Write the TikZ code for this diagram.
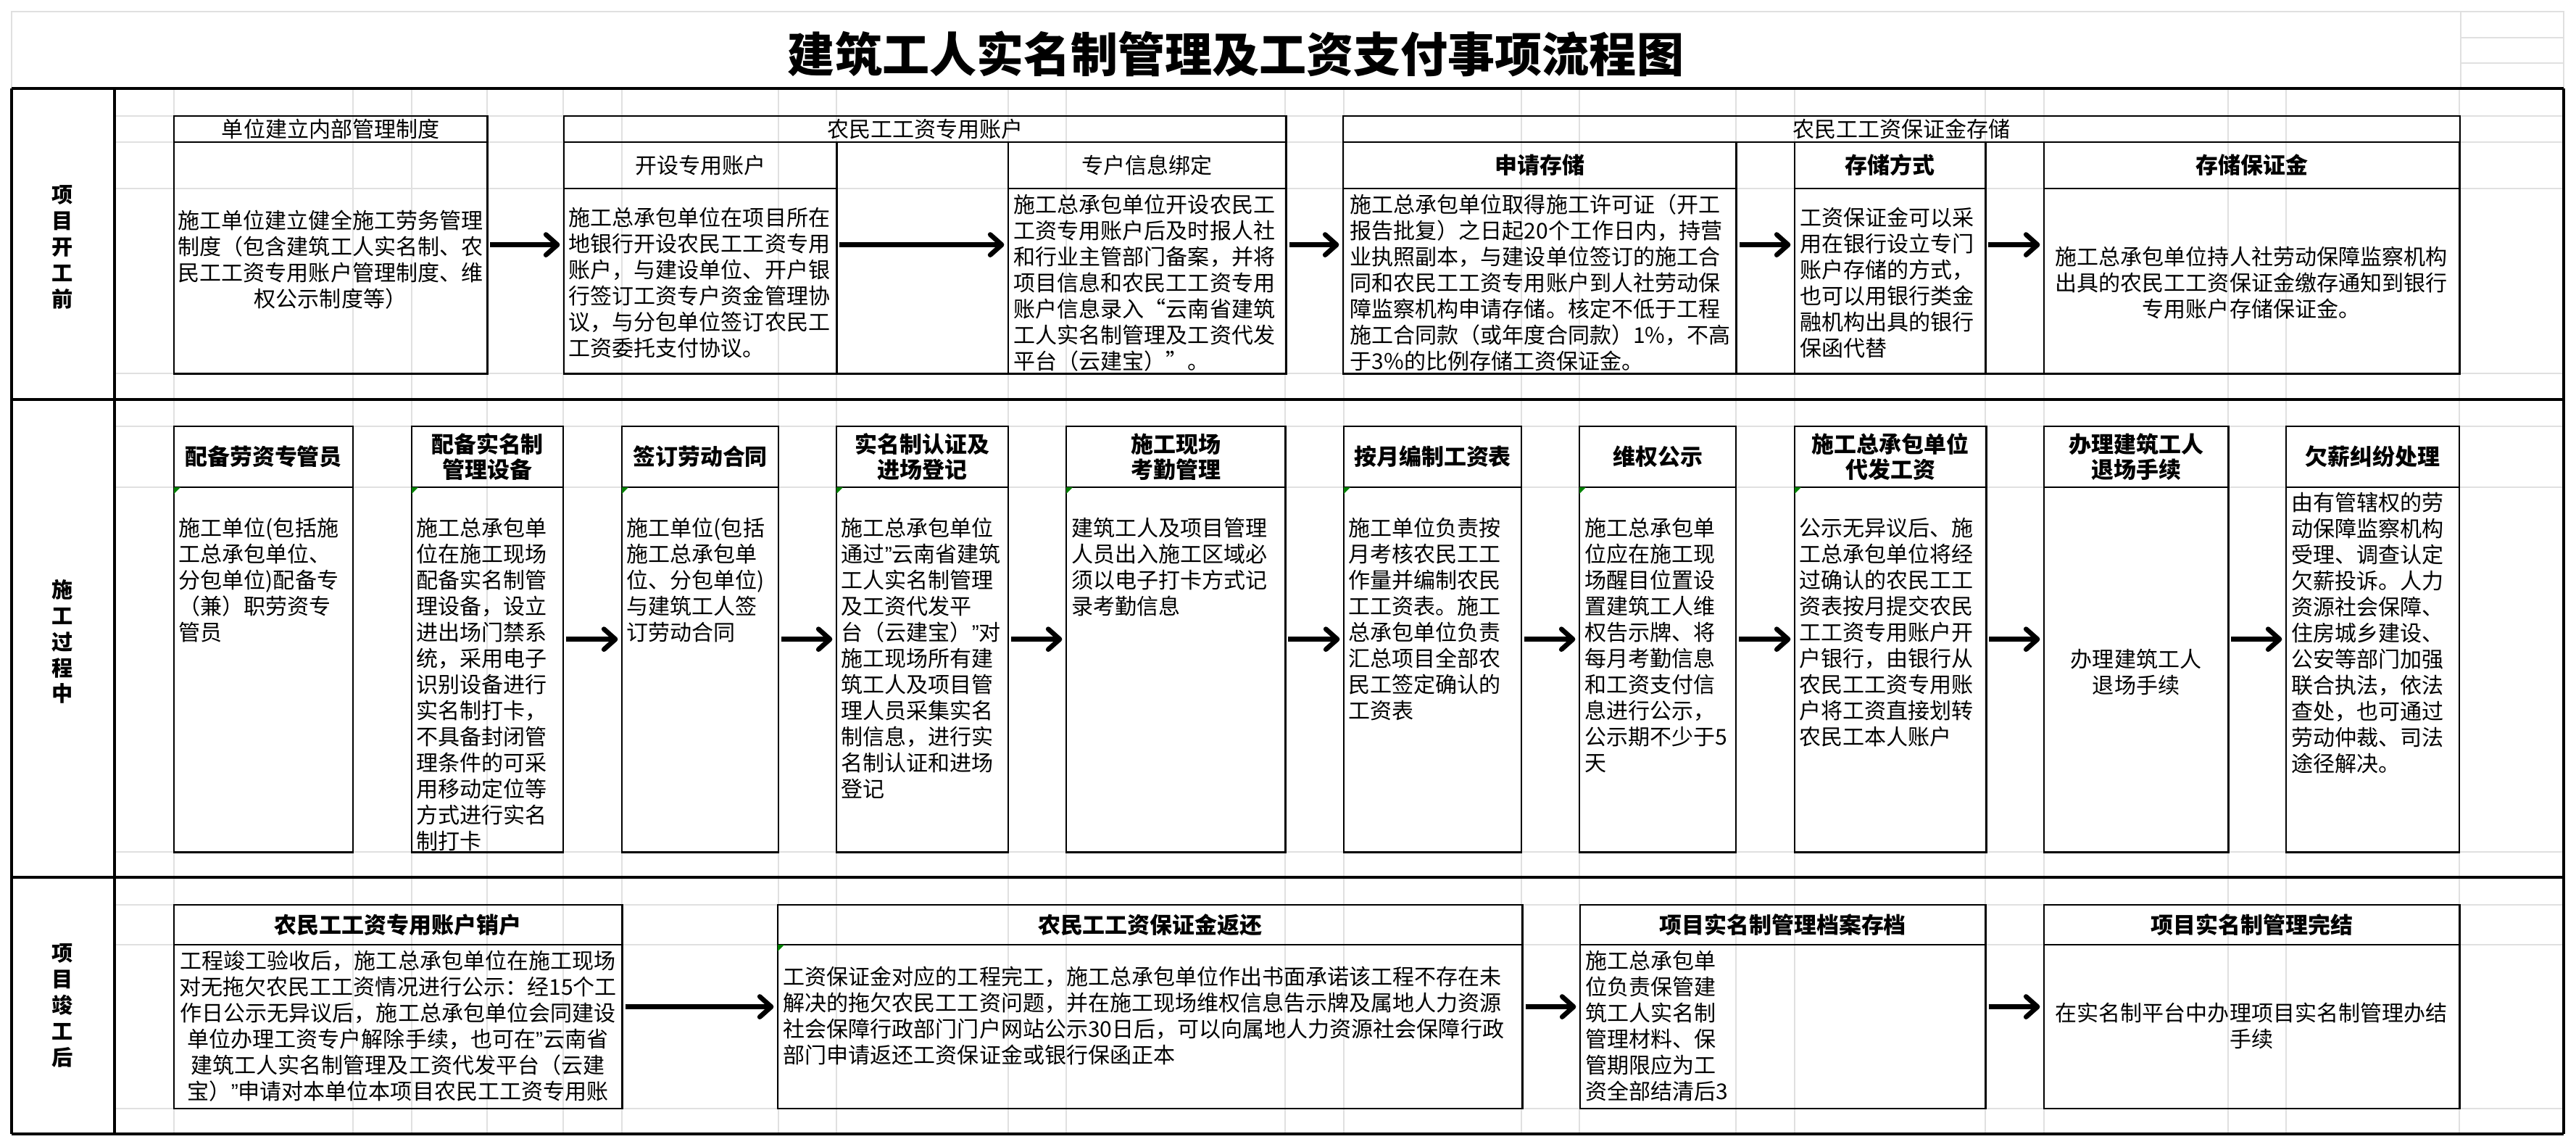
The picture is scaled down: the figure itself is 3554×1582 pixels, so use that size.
\documentclass[tikz,border=0pt]{standalone}
\usepackage{fontspec}
\setmainfont{Noto Sans CJK SC}
\newfontfamily\quotefnt{Liberation Sans}
\usetikzlibrary{arrows.meta}
\newcommand\bodyfnt{\fontsize{8.54}{10.24}\selectfont}
\newcommand\headbfnt{\fontsize{8.8}{9.96}\selectfont\bfseries}
\newcommand\lanefnt{\fontsize{8.3}{10.2}\selectfont\bfseries}
\newcommand\titlefnt{\fontsize{18.5}{20}\selectfont\bfseries}
\newcommand\cq{{\quotefnt ”}}
\begin{document}
\begin{tikzpicture}[
                x=0.01cm, y=-0.01cm,
                frame/.style={line width=1.1pt},
                grid line/.style={black!12, line width=0.6pt},
                cell/.style={draw, line width=0.75pt, anchor=north west, inner sep=0pt, outer sep=0pt, align=center, font=\bodyfnt},
                hcell/.style={cell, font=\headbfnt},
                txt/.style={inner sep=0pt, align=left, font=\bodyfnt},
                flow/.style={line width=1.9pt, -{Straight Barb[length=4.5pt,width=8pt,round]}, shorten <=1.2pt, shorten >=1.6pt}
            ]

            \fill[white] (0,0) rectangle (3554,1582);
            \useasboundingbox (0,0) rectangle (3554,1582);

            \foreach \y in {160,196,260,515,588,672,1175,1248,1303,1529}
                \draw[grid line] (158,\y) -- (3537,\y);
            \foreach \x in {240,487,568,672,777,858,1074,1154,1391,1471,1773,1854,2099,2179,2395,2476,2739,2820,3074,3154,3393}
                \draw[grid line] (\x,122) -- (\x,1564);
            \draw[grid line] (16,16) rectangle (3537,122);
            \draw[grid line] (3395,16) -- (3395,122);
            \draw[grid line] (3395,52) -- (3537,52);
            \draw[grid line] (3395,87) -- (3537,87);

            \node[font=\titlefnt] (title) at (1705,74) {建筑工人实名制管理及工资支付事项流程图};

            \draw[frame] (16,122) -- (3537,122);
            \draw[frame] (16,551) -- (3537,551);
            \draw[frame] (16,1210) -- (3537,1210);
            \draw[frame] (16,1564) -- (3537,1564);
            \draw[frame] (16,122) -- (16,1564);
            \draw[frame] (158,122) -- (158,1564);
            \draw[frame] (3537,122) -- (3537,1564);

            \node[font=\lanefnt, align=center] (lane1) at (86,341) {项\\目\\开\\工\\前};
            \node[font=\lanefnt, align=center] (lane2) at (86,885) {施\\工\\过\\程\\中};
            \node[font=\lanefnt, align=center] (lane3) at (86,1387) {项\\目\\竣\\工\\后};

            % lane 1
            \node[cell, minimum width=4.32cm, minimum height=3.55cm] (a) at (240,160) {};
            \node[cell, minimum width=4.32cm, minimum height=0.36cm] (ah) at (240,160) {单位建立内部管理制度};
            \node[txt, align=center] (ta) at (456,358) {施工单位建立健全施工劳务管理\\制度（包含建筑工人实名制、农\\民工工资专用账户管理制度、维\\权公示制度等）};

            \node[cell, minimum width=9.96cm, minimum height=3.55cm] (bg) at (778,160) {};
            \node[cell, minimum width=9.96cm, minimum height=0.36cm] (bgh) at (778,160) {农民工工资专用账户};
            \node[cell, minimum width=3.76cm, minimum height=3.19cm] (b1) at (778,196) {};
            \node[cell, minimum width=3.76cm, minimum height=0.64cm] (b1h) at (778,196) {开设专用账户};
            \node[cell, minimum width=2.37cm, minimum height=3.19cm] (bm) at (1154,196) {};
            \node[cell, minimum width=3.83cm, minimum height=3.19cm] (b2) at (1391,196) {};
            \node[cell, minimum width=3.83cm, minimum height=0.64cm] (b2h) at (1391,196) {专户信息绑定};
            \node[txt, anchor=west] (tb1) at (784,390) {施工总承包单位在项目所在\\地银行开设农民工工资专用\\账户，与建设单位、开户银\\行签订工资专户资金管理协\\议，与分包单位签订农民工\\工资委托支付协议。};
            \node[txt, anchor=west] (tb2) at (1398,390) {施工总承包单位开设农民工\\工资专用账户后及时报人社\\和行业主管部门备案，并将\\项目信息和农民工工资专用\\账户信息录入“云南省建筑\\工人实名制管理及工资代发\\平台（云建宝）”。};

            \node[cell, minimum width=15.40cm, minimum height=3.55cm] (cg) at (1853,160) {};
            \node[cell, minimum width=15.40cm, minimum height=0.36cm] (cgh) at (1853,160) {农民工工资保证金存储};
            \node[cell, minimum width=5.42cm, minimum height=3.19cm] (c1) at (1853,196) {};
            \node[hcell, minimum width=5.42cm, minimum height=0.64cm] (c1h) at (1853,196) {申请存储};
            \node[cell, minimum width=0.81cm, minimum height=3.19cm] (cm1) at (2395,196) {};
            \node[cell, minimum width=2.63cm, minimum height=3.19cm] (c2) at (2476,196) {};
            \node[hcell, minimum width=2.63cm, minimum height=0.64cm] (c2h) at (2476,196) {存储方式};
            \node[cell, minimum width=0.81cm, minimum height=3.19cm] (cm2) at (2739,196) {};
            \node[cell, minimum width=5.73cm, minimum height=3.19cm] (c3) at (2820,196) {};
            \node[hcell, minimum width=5.73cm, minimum height=0.64cm] (c3h) at (2820,196) {存储保证金};
            \node[txt, anchor=west] (tc1) at (1862,390) {施工总承包单位取得施工许可证（开工\\报告批复）之日起20个工作日内，持营\\业执照副本，与建设单位签订的施工合\\同和农民工工资专用账户到人社劳动保\\障监察机构申请存储。核定不低于工程\\施工合同款（或年度合同款）1\%，不高\\于3\%的比例存储工资保证金。};
            \node[txt, anchor=west] (tc2) at (2483,390) {工资保证金可以采\\用在银行设立专门\\账户存储的方式，\\也可以用银行类金\\融机构出具的银行\\保函代替};
            \node[txt, align=center] (tc3) at (3106,390) {施工总承包单位持人社劳动保障监察机构\\出具的农民工工资保证金缴存通知到银行\\专用账户存储保证金。};

            \draw[flow] (a) -- (bg);
            \draw[flow] (b1.east |- bg.center) -- (b2.west |- bg.center);
            \draw[flow] (bg) -- (cg);
            \draw[flow] (c1.east |- cg.center) -- (c2.west |- cg.center);
            \draw[flow] (c2.east |- cg.center) -- (c3.west |- cg.center);

            % lane 2
            \node[cell, minimum width=2.47cm, minimum height=5.87cm] (p1) at (240,588) {};
            \node[hcell, minimum width=2.47cm, minimum height=0.84cm] (p1h) at (240,588) {配备劳资专管员};
            \node[cell, minimum width=2.09cm, minimum height=5.87cm] (p2) at (568,588) {};
            \node[hcell, minimum width=2.09cm, minimum height=0.84cm] (p2h) at (568,588) {配备实名制\\管理设备};
            \node[cell, minimum width=2.16cm, minimum height=5.87cm] (p3) at (858,588) {};
            \node[hcell, minimum width=2.16cm, minimum height=0.84cm] (p3h) at (858,588) {签订劳动合同};
            \node[cell, minimum width=2.37cm, minimum height=5.87cm] (p4) at (1154,588) {};
            \node[hcell, minimum width=2.37cm, minimum height=0.84cm] (p4h) at (1154,588) {实名制认证及\\进场登记};
            \node[cell, minimum width=3.02cm, minimum height=5.87cm] (p5) at (1471,588) {};
            \node[hcell, minimum width=3.02cm, minimum height=0.84cm] (p5h) at (1471,588) {施工现场\\考勤管理};
            \node[cell, minimum width=2.45cm, minimum height=5.87cm] (p6) at (1854,588) {};
            \node[hcell, minimum width=2.45cm, minimum height=0.84cm] (p6h) at (1854,588) {按月编制工资表};
            \node[cell, minimum width=2.16cm, minimum height=5.87cm] (p7) at (2179,588) {};
            \node[hcell, minimum width=2.16cm, minimum height=0.84cm] (p7h) at (2179,588) {维权公示};
            \node[cell, minimum width=2.64cm, minimum height=5.87cm] (p8) at (2476,588) {};
            \node[hcell, minimum width=2.64cm, minimum height=0.84cm] (p8h) at (2476,588) {施工总承包单位\\代发工资};
            \node[cell, minimum width=2.54cm, minimum height=5.87cm] (p9) at (2820,588) {};
            \node[hcell, minimum width=2.54cm, minimum height=0.84cm] (p9h) at (2820,588) {办理建筑工人\\退场手续};
            \node[cell, minimum width=2.39cm, minimum height=5.87cm] (p10) at (3154,588) {};
            \node[hcell, minimum width=2.39cm, minimum height=0.84cm] (p10h) at (3154,588) {欠薪纠纷处理};

            \foreach \x in {240,568,858,1154,1471,1854,2179,2476}
                \fill[green!50!black] (\x,672) -- ++(9,0) -- ++(-9,9) -- cycle;

            \node[txt, anchor=west] (tp1) at (246,800) {施工单位(包括施\\工总承包单位、\\分包单位)配备专\\（兼）职劳资专\\管员};
            \node[txt, anchor=west] (tp2) at (574,944) {施工总承包单\\位在施工现场\\配备实名制管\\理设备，设立\\进出场门禁系\\统，采用电子\\识别设备进行\\实名制打卡，\\不具备封闭管\\理条件的可采\\用移动定位等\\方式进行实名\\制打卡};
            \node[txt, anchor=west] (tp3) at (864,800) {施工单位(包括\\施工总承包单\\位、分包单位)\\与建筑工人签\\订劳动合同};
            \node[txt, anchor=west] (tp4) at (1160,908) {施工总承包单位\\通过\cq 云南省建筑\\工人实名制管理\\及工资代发平\\台（云建宝）\cq 对\\施工现场所有建\\筑工人及项目管\\理人员采集实名\\制信息，进行实\\名制认证和进场\\登记};
            \node[txt, anchor=west] (tp5) at (1478,782) {建筑工人及项目管理\\人员出入施工区域必\\须以电子打卡方式记\\录考勤信息};
            \node[txt, anchor=west] (tp6) at (1860,854) {施工单位负责按\\月考核农民工工\\作量并编制农民\\工工资表。施工\\总承包单位负责\\汇总项目全部农\\民工签定确认的\\工资表};
            \node[txt, anchor=west] (tp7) at (2186,890) {施工总承包单\\位应在施工现\\场醒目位置设\\置建筑工人维\\权告示牌、将\\每月考勤信息\\和工资支付信\\息进行公示，\\公示期不少于5\\天};
            \node[txt, anchor=west] (tp8) at (2482,872) {公示无异议后、施\\工总承包单位将经\\过确认的农民工工\\资表按月提交农民\\工工资专用账户开\\户银行，由银行从\\农民工工资专用账\\户将工资直接划转\\农民工本人账户};
            \node[txt, align=center] (tp9) at (2947,927) {办理建筑工人\\退场手续};
            \node[txt, anchor=west] (tp10) at (3161,873) {由有管辖权的劳\\动保障监察机构\\受理、调查认定\\欠薪投诉。人力\\资源社会保障、\\住房城乡建设、\\公安等部门加强\\联合执法，依法\\查处，也可通过\\劳动仲裁、司法\\途径解决。};

            \foreach \u/\v in {p2/p3,p3/p4,p4/p5,p5/p6,p6/p7,p7/p8,p8/p9,p9/p10}
                \draw[flow] (\u) -- (\v);

            % lane 3
            \node[cell, minimum width=6.18cm, minimum height=2.81cm] (q1) at (240,1248) {};
            \node[hcell, minimum width=6.18cm, minimum height=0.55cm] (q1h) at (240,1248) {农民工工资专用账户销户};
            \node[cell, minimum width=10.27cm, minimum height=2.81cm] (q2) at (1073,1248) {};
            \node[hcell, minimum width=10.27cm, minimum height=0.55cm] (q2h) at (1073,1248) {农民工工资保证金返还};
            \node[cell, minimum width=5.59cm, minimum height=2.81cm] (q3) at (2180,1248) {};
            \node[hcell, minimum width=5.59cm, minimum height=0.55cm] (q3h) at (2180,1248) {项目实名制管理档案存档};
            \node[cell, minimum width=5.73cm, minimum height=2.81cm] (q4) at (2820,1248) {};
            \node[hcell, minimum width=5.73cm, minimum height=0.55cm] (q4h) at (2820,1248) {项目实名制管理完结};
            \fill[green!50!black] (1073,1303) -- ++(9,0) -- ++(-9,9) -- cycle;

            \node[txt, align=center] (tq1) at (549,1415) {工程竣工验收后，施工总承包单位在施工现场\\对无拖欠农民工工资情况进行公示：经15个工\\作日公示无异议后，施工总承包单位会同建设\\单位办理工资专户解除手续，也可在\cq 云南省\\建筑工人实名制管理及工资代发平台（云建\\宝）\cq 申请对本单位本项目农民工工资专用账};
            \node[txt, anchor=west] (tq2) at (1080,1401) {工资保证金对应的工程完工，施工总承包单位作出书面承诺该工程不存在未\\解决的拖欠农民工工资问题，并在施工现场维权信息告示牌及属地人力资源\\社会保障行政部门门户网站公示30日后，可以向属地人力资源社会保障行政\\部门申请返还工资保证金或银行保函正本};
            \node[txt, anchor=west] (tq3) at (2187,1415) {施工总承包单\\位负责保管建\\筑工人实名制\\管理材料、保\\管期限应为工\\资全部结清后3};
            \node[txt, align=center] (tq4) at (3106,1415) {在实名制平台中办理项目实名制管理办结\\手续};

            \draw[flow] (q1) -- (q2);
            \draw[flow] (q2) -- (q3);
            \draw[flow] (q3) -- (q4);

        \end{tikzpicture}
\end{document}
